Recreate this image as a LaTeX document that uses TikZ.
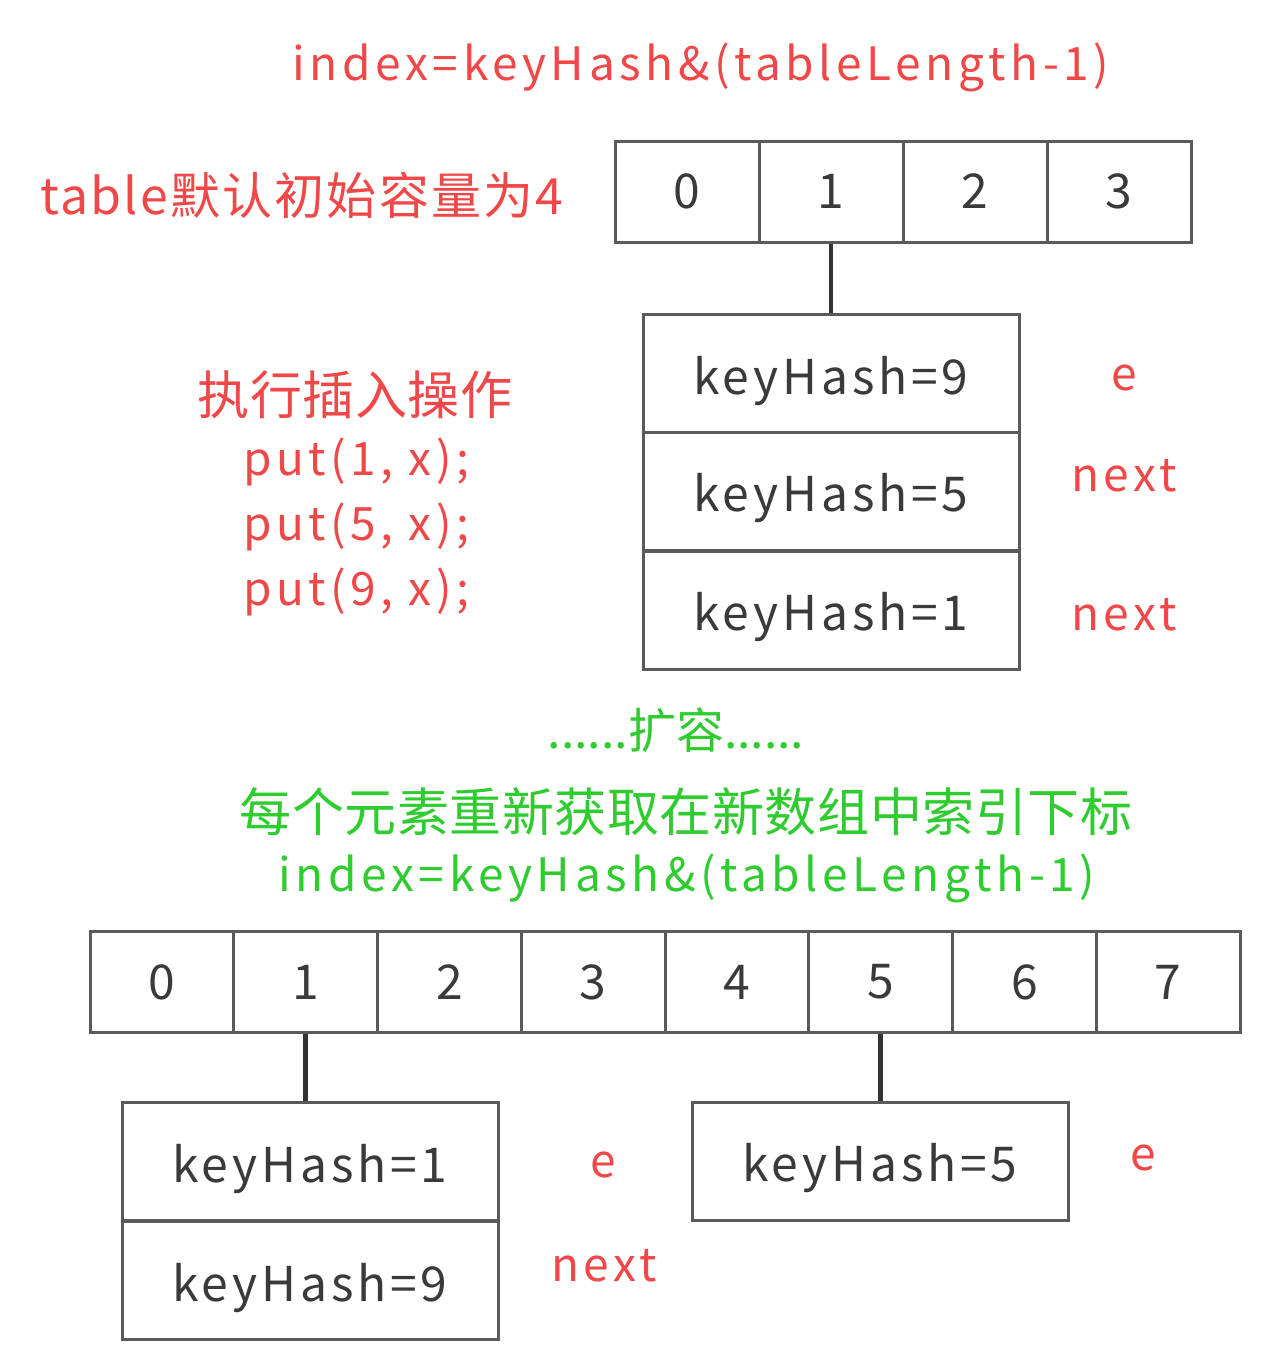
\documentclass[tikz,border=0pt]{standalone}
\usepackage{fontspec}
\setmainfont{Noto Sans CJK SC}
\definecolor{myred}{HTML}{F04848}
\definecolor{mygreen}{HTML}{2ECC2E}
\definecolor{boxline}{HTML}{5A5A5A}
\definecolor{boxtext}{HTML}{3A3A3A}
\newcommand{\lsp}[1]{\addfontfeatures{LetterSpace=#1}}
\begin{document}
\begin{tikzpicture}[x=1pt,y=-1pt,
  bigtxt/.style={font=\fontsize{46}{52}\selectfont\lsp{10}},
  cjktxt/.style={font=\fontsize{52}{56}\selectfont\lsp{1}},
  mixtxt/.style={font=\fontsize{50}{56}\selectfont\lsp{4.5}},
  dotstxt/.style={font=\fontsize{48}{52}\selectfont},
  redtxt/.style={bigtxt, text=myred, inner sep=0pt},
  greentxt/.style={bigtxt, text=mygreen, inner sep=0pt},
  cell/.style={draw=boxline, line width=3pt, minimum width=144pt, minimum height=101pt, inner sep=0pt, text=boxtext, font=\fontsize{48}{52}\selectfont},
  cellb/.style={cell, minimum width=143.75pt},
  chainbox/.style={draw=boxline, line width=3pt, minimum width=376pt, minimum height=118pt, inner sep=0pt, text=boxtext, font=\fontsize{48}{52}\selectfont\lsp{8}, text height=44pt, text depth=3pt},
  link/.style={draw=black!80, line width=4.5pt}]
\useasboundingbox[fill=white] (0,0) rectangle (1268,1354);

% top title
\node[redtxt] (title1) at (701,67) {index=keyHash\&(tableLength-1)};
\node[redtxt, mixtxt] (cap) at (302,195) {table默认初始容量为4};

% top table
\foreach \i in {0,...,3} {
  \node[cell] (t\i) at ({687+144*\i},191.5) {\i};
}
\node[chainbox] (a9) at (831,373.5) {keyHash=9};
\node[chainbox] (a5) at (831,491) {keyHash=5};
\node[chainbox] (a1) at (831,610) {keyHash=1};
\draw[link] (t1.south) -- (t1.south |- a9.north);

\node[redtxt] (le1) at (1124,378) {e};
\node[redtxt] (ln1) at (1124,476) {next};
\node[redtxt] (ln2) at (1124,615) {next};

\node[redtxt, cjktxt] (op) at (355,395) {执行插入操作};
\node[redtxt] (p1) at (356,462) {put(1, x);};
\node[redtxt] (p2) at (356,527) {put(5, x);};
\node[redtxt] (p3) at (356,592) {put(9, x);};

% green text
\node[greentxt, dotstxt] (g1) at (676,730) {......扩容......};
\node[greentxt, cjktxt] (g2) at (686,812) {每个元素重新获取在新数组中索引下标};
\node[greentxt] (g3) at (687,878) {index=keyHash\&(tableLength-1)};

% bottom table
\foreach \i in {0,...,7} {
  \node[cellb] (b\i) at ({161.875+143.75*\i},982) {\i};
}
\node[chainbox] (c1) at (310,1161.5) {keyHash=1};
\node[chainbox] (c9) at (310,1280.5) {keyHash=9};
\node[chainbox] (d5) at (880,1161) {keyHash=5};
\draw[link] (b1.south) -- (b1.south |- c1.north);
\draw[link] (b5.south) -- (b5.south |- d5.north);

\node[redtxt] (le2) at (603,1165) {e};
\node[redtxt] (ln3) at (604,1266) {next};
\node[redtxt] (le3) at (1143,1158) {e};
\end{tikzpicture}
\end{document}
